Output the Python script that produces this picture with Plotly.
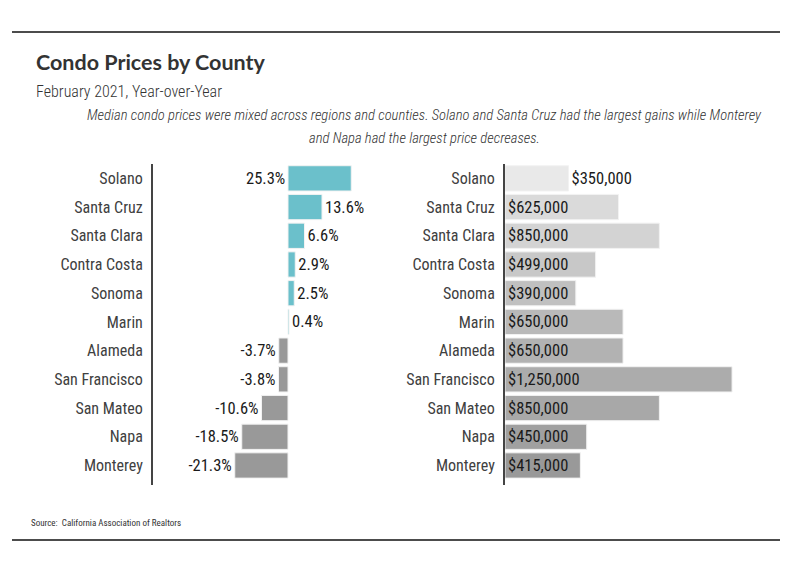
import plotly.graph_objects as go

# Condo prices by county, Feb 2021 (year-over-year change and median price)
counties = ["Solano", "Santa Cruz", "Santa Clara", "Contra Costa", "Sonoma", "Marin",
            "Alameda", "San Francisco", "San Mateo", "Napa", "Monterey"]
yoy_change = [25.3, 13.6, 6.6, 2.9, 2.5, 0.4, -3.7, -3.8, -10.6, -18.5, -21.3]
median_price = [350000, 625000, 850000, 499000, 390000, 650000,
                650000, 1250000, 850000, 450000, 415000]
price_colors = ["#e9e9e9", "#dadada", "#d3d3d3", "#c8c8c8", "#c0c0c0", "#b9b9b9",
                "#b2b2b2", "#acacac", "#a8a8a8", "#a0a0a0", "#999999"]

FONT = "Roboto Condensed, sans-serif"
W, H = 800, 575
OFF = 8  # page body margin


def px_x(p):
    return (p - OFF) / W


def px_y(p):
    return 1 - (p - OFF) / H


fig = go.Figure()

# left: year-over-year change
fig.add_trace(go.Bar(
    y=counties, x=yoy_change, orientation="h",
    marker=dict(color=["#6bc0cb" if v >= 0 else "#999999" for v in yoy_change],
                line=dict(color="#f2f2f2", width=1)),
    text=["" if i == 0 else f"{v}%" for i, v in enumerate(yoy_change)],
    textposition="outside", textfont=dict(family=FONT, size=16.5, color="#1a1a1a"),
    cliponaxis=False, xaxis="x", yaxis="y", showlegend=False, hoverinfo="x+y",
))

# right: median price
fig.add_trace(go.Bar(
    y=counties, x=median_price, orientation="h",
    marker=dict(color=price_colors, line=dict(color="#f2f2f2", width=1)),
    text=[f"${v:,}" for v in median_price],
    textposition=["outside"] + ["inside"] * (len(counties) - 1),
    insidetextanchor="start", constraintext="none",
    textfont=dict(family=FONT, size=16.5, color="#1a1a1a"),
    cliponaxis=False, xaxis="x2", yaxis="y2", showlegend=False, hoverinfo="x+y",
))

ydom = [px_y(485), px_y(164)]
yax = dict(type="category", range=[10.68, -0.5], showline=True, linecolor="#444444",
           linewidth=2, ticks="", ticklabelstandoff=5, showgrid=False, zeroline=False,
           tickfont=dict(family=FONT, size=16, color="#404040"), domain=ydom)

fig.update_layout(
    width=W, height=H, margin=dict(l=0, r=0, t=0, b=0),
    paper_bgcolor="white", plot_bgcolor="white",
    font=dict(family=FONT),
    bargap=0.12,
    xaxis=dict(domain=[px_x(153), px_x(385)], range=[-54, 38.8], visible=False),
    xaxis2=dict(domain=[px_x(505), px_x(780)], range=[0, 1514000], visible=False),
    yaxis=dict(anchor="x", **yax),
    yaxis2=dict(anchor="x2", **yax),
)

# Solano's change label sits left of the zero line
fig.add_annotation(x=0, y=counties[0], xref="x", yref="y", text=f"{yoy_change[0]}%",
                   showarrow=False, xanchor="right", xshift=-1,
                   font=dict(family=FONT, size=16.5, color="#1a1a1a"))

fig.add_annotation(x=px_x(34), y=px_y(62), xref="paper", yref="paper", xanchor="left",
                   yanchor="middle", showarrow=False, text="<b>Condo Prices by County</b>",
                   font=dict(family="Lato, sans-serif", size=21.5, color="#333333"))
fig.add_annotation(x=px_x(34), y=px_y(92), xref="paper", yref="paper", xanchor="left",
                   yanchor="middle", showarrow=False, text="February 2021, Year-over-Year",
                   font=dict(family=FONT, size=16, color="#333333", weight=300))
fig.add_annotation(x=px_x(424), y=px_y(115), xref="paper", yref="paper", xanchor="center",
                   yanchor="middle", showarrow=False,
                   text="<i>Median condo prices were mixed across regions and counties. "
                        "Solano and Santa Cruz had the largest gains while Monterey</i>",
                   font=dict(family=FONT, size=14.6, color="#333333", weight=300))
fig.add_annotation(x=px_x(424), y=px_y(138), xref="paper", yref="paper", xanchor="center",
                   yanchor="middle", showarrow=False,
                   text="<i>and Napa had the largest price decreases.</i>",
                   font=dict(family=FONT, size=14.6, color="#333333", weight=300))
fig.add_annotation(x=px_x(29), y=px_y(523), xref="paper", yref="paper", xanchor="left",
                   yanchor="middle", showarrow=False,
                   text="Source:  California Association of Realtors",
                   font=dict(family=FONT, size=9, color="#333333"))

for yy in (32, 540):
    fig.add_shape(type="line", xref="paper", yref="paper", x0=px_x(12), x1=px_x(780),
                  y0=px_y(yy), y1=px_y(yy), line=dict(color="#111111", width=1.5))

fig.write_html("out.html")
